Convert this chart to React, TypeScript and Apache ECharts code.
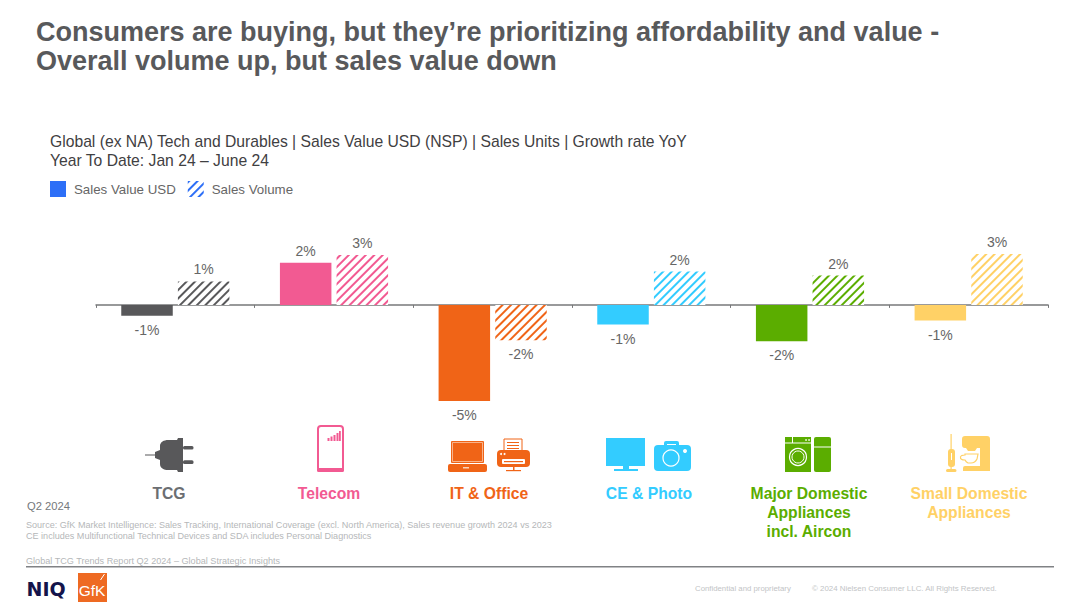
import React, { useEffect, useRef } from "react";
import * as echarts from "echarts";

const categories = ["TCG", "Telecom", "IT & Office", "CE & Photo", "Major Domestic\nAppliances\nincl. Aircon", "Small Domestic\nAppliances"];
const salesValue = [-0.55, 2.15, -4.9, -1.0, -1.85, -0.8];
const salesVolume = [1.2, 2.55, -1.8, 1.7, 1.5, 2.6];
const barColors = ["#58585A", "#F25A92", "#F06417", "#33CCFF", "#5BAD00", "#FFD166"];
const labelColors = ["#6B6E72", "#F25A92", "#F06417", "#33CCFF", "#5BAD00", "#FFD166"];
const LEGEND_BLUE = "#2D6FF7";
const FONT = "'Liberation Sans', Arial, sans-serif";

const hatch = (color: string) => ({
  symbol: "rect",
  symbolSize: 1,
  color,
  dashArrayX: [1, 0],
  dashArrayY: [1.9, 3.5],
  rotation: -Math.PI / 4,
});

echarts.graphic.registerShape(
  "plugBody",
  echarts.graphic.extendPath(
    "M145 454.5 L155 454.5 L155 452 L160 450 L160 446 C160 442 164 440 168 440 L177 440 L178 438 L183 438 L183 472 L178 472 L177 470 L168 470 C164 470 160 468 160 464 L160 460 L155 458 L155 455.5 L145 455.5 Z",
    {}
  )
);
echarts.graphic.registerShape(
  "coffeeMachine",
  echarts.graphic.extendPath(
    "M965 436 L987 436 Q990 436 990 439 L990 471 L963 471 L963 468 Q963 466 965 466 L980 466 L980 448 L977 448 L975 451 L968 451 L966 448 L965 448 Q962 448 962 445 L962 439 Q962 436 965 436 Z",
    {}
  )
);
echarts.graphic.registerShape(
  "coffeeCup",
  echarts.graphic.extendPath(
    "M965 454 L978 454 L977 459 Q975 463 971 463 L968 463 Q966 462 965 460 Q960 460 960.5 457 Q961 455 965 455 Z",
    {}
  )
);

const rect = (x: number, y: number, width: number, height: number, fill: string, r = 0) => ({
  type: "rect",
  silent: true,
  shape: { x, y, width, height, r },
  style: { fill },
});
const outline = (x: number, y: number, width: number, height: number, stroke: string, r = 0, lineWidth = 2) => ({
  type: "rect",
  silent: true,
  shape: { x, y, width, height, r },
  style: { fill: "#fff", stroke, lineWidth },
});
const circle = (cx: number, cy: number, r: number, fill: string, stroke?: string, lineWidth = 1) => ({
  type: "circle",
  silent: true,
  shape: { cx, cy, r },
  style: { fill, stroke, lineWidth },
});
const text = (x: number, y: number, t: string, size: number, fill: string, extra: any = {}) => ({
  type: "text",
  silent: true,
  x,
  y,
  style: {
    text: t,
    font: `${extra.weight || "normal"} ${size}px ${extra.family || FONT}`,
    fill,
    textVerticalAlign: "middle",
    textAlign: extra.align || "left",
  },
});

const [gray, pink, orange, blue, green, yellow] = barColors;

const icons: any[] = [
  // plug
  { type: "plugBody", silent: true, style: { fill: gray } },
  rect(183, 446, 10.5, 3.6, gray, 1.5),
  rect(183, 460.3, 10.5, 3.6, gray, 1.5),
  // phone
  outline(318, 426, 25, 45, pink, 3),
  rect(317, 468, 27, 4, pink, 1.5),
  rect(327.5, 438, 2, 3, pink),
  rect(330.5, 436.5, 2, 4.5, pink),
  rect(333.5, 435, 2, 6, pink),
  rect(336.5, 433, 2, 8, pink),
  rect(339, 431, 1.8, 10, pink),
  // laptop
  rect(451, 441, 33, 22, orange, 1),
  outline(452.5, 442.5, 30, 19, "#F9B48C", 0, 0.8),
  rect(453, 443, 29, 18, orange),
  rect(448, 464, 39, 8, orange, 2),
  rect(463, 467, 6, 1.5, "#FBD3BA"),
  // printer
  outline(504, 439, 18, 12, orange, 0, 1),
  rect(507, 442, 12, 1, orange),
  rect(507, 445, 12, 1, orange),
  rect(507, 448, 12, 1, orange),
  rect(497, 450, 33, 17, orange, 4),
  circle(501, 454, 1, "#fff"),
  circle(504.5, 454, 1, "#fff"),
  rect(502, 459, 23, 5, "#fff", 1),
  rect(504, 461, 19, 1.2, orange),
  rect(513, 467, 1.5, 3.5, orange),
  rect(506, 470, 15, 1.2, orange),
  // tv
  rect(606, 438, 39, 28, blue),
  rect(623, 466, 6, 3, blue),
  rect(614, 469, 24, 2, blue),
  // camera
  rect(654, 445, 37, 26, blue, 4),
  rect(664, 441, 15, 6, blue, 2),
  rect(667, 444, 9, 1, "#fff"),
  circle(671, 458, 8, blue, "#fff", 1.2),
  circle(685, 451, 2, "#fff"),
  // washer
  rect(785, 437, 26, 35, green),
  rect(785, 442.5, 26, 1, "#fff"),
  rect(792, 437, 1, 6, "#fff"),
  circle(806, 440, 0.8, "#fff"),
  circle(809, 440, 0.8, "#fff"),
  circle(798, 457, 8.5, green, "#fff", 1.2),
  circle(798, 457, 6, green, "#fff", 1),
  // fridge
  rect(814, 437, 17, 35, green, 2),
  rect(814, 446.5, 17, 1, "#fff"),
  // vacuum
  rect(950.5, 434, 1.2, 16, yellow),
  rect(948, 449, 7, 18, yellow, 3),
  rect(951, 453, 1, 7, "#fff"),
  rect(950.5, 466, 1.2, 4, yellow),
  rect(946, 469, 10.5, 3, yellow, 1.5),
  // coffee machine
  { type: "coffeeMachine", silent: true, style: { fill: yellow } },
  { type: "coffeeCup", silent: true, style: { fill: "#fff", stroke: yellow, lineWidth: 1.2 } },
];

const footer: any[] = [
  text(27, 506, "Q2 2024", 11.2, "#75787B"),
  text(26, 525, "Source: GfK Market Intelligence: Sales Tracking, International Coverage (excl. North America), Sales revenue growth 2024 vs 2023", 9.07, "#B5B7B9"),
  text(26, 536, "CE includes Multifunctional Technical Devices and SDA includes Personal Diagnostics", 9.07, "#B5B7B9"),
  text(26, 560.5, "Global TCG Trends Report Q2 2024 – Global Strategic Insights", 9.1, "#B5B7B9"),
  rect(26, 566, 1028, 1.5, "#808285"),
  text(26.5, 588.5, "NIQ", 19, "#14144B", { weight: "bold", family: "'DejaVu Sans', sans-serif" }),
  rect(78, 573, 29, 29, "#EE6A22"),
  text(92, 590, "GfK", 15.5, "#FFFFFF", { align: "center" }),
  {
    type: "line",
    silent: true,
    shape: { x1: 104.5, y1: 574, x2: 100.5, y2: 580 },
    style: { stroke: "#fff", lineWidth: 1 },
  },
  text(695, 588, "Confidential and proprietary", 7.8, "#C2C4C6"),
  text(812, 588, "© 2024 Nielsen Consumer LLC. All Rights Reserved.", 7.9, "#C2C4C6"),
];

const fmt = (p: any) => `${Math.round(p.value)}%`;
const labelStyle = { show: true, position: "outside", formatter: fmt, color: "#666", fontSize: 14, fontFamily: FONT };
const labelFor = (value: number) => ({ distance: value < 0 ? 7 : 5 });

export default function App() {
  const ref = useRef<HTMLDivElement>(null);
  useEffect(() => {
    document.body.style.margin = "0";
    const chart = echarts.init(ref.current!, undefined, { renderer: "svg" });
    chart.setOption({
      animation: false,
      backgroundColor: "#fff",
      title: [
        {
          text: "Consumers are buying, but they’re prioritizing affordability and value -\nOverall volume up, but sales value down",
          left: 36,
          top: 17,
          padding: 0,
          textStyle: { color: "#58595B", fontSize: 27, fontWeight: "bold", fontFamily: FONT, lineHeight: 29.5 },
        },
        {
          text: "Global (ex NA) Tech and Durables | Sales Value USD (NSP) | Sales Units | Growth rate YoY\nYear To Date: Jan 24 – June 24",
          left: 50,
          top: 132,
          padding: 0,
          textStyle: { color: "#3F4042", fontSize: 15.7, fontWeight: "normal", fontFamily: FONT, lineHeight: 19 },
        },
      ],
      legend: {
        left: 50,
        top: 181,
        padding: 0,
        itemWidth: 16,
        itemHeight: 16,
        itemGap: 12,
        icon: "rect",
        selectedMode: false,
        textStyle: { color: "#666", fontSize: 13.3, fontFamily: FONT, padding: [0, 0, 0, 3] },
        data: ["Sales Value USD", "Sales Volume"],
      },
      grid: [
        { left: 96, width: 952, top: 226.5, height: 196 },
        { left: 89, width: 960, top: 430, height: 50 },
      ],
      xAxis: [
        {
          type: "category",
          gridIndex: 0,
          data: categories,
          axisLine: { onZero: true, lineStyle: { color: "#77787A", width: 1.5 } },
          axisTick: { show: true, alignWithLabel: false, length: 3, lineStyle: { color: "#77787A" } },
          axisLabel: { show: false },
        },
        {
          type: "category",
          gridIndex: 1,
          position: "bottom",
          data: categories,
          axisLine: { show: false },
          axisTick: { show: false },
          axisLabel: {
            interval: 0,
            margin: 4,
            fontSize: 15.7,
            fontWeight: "bold",
            fontFamily: FONT,
            lineHeight: 19,
            color: (_v: any, i: number) => labelColors[i],
          },
        },
      ],
      yAxis: [
        { type: "value", gridIndex: 0, min: -6, max: 4, show: false },
        { type: "value", gridIndex: 1, min: 0, max: 1, show: false },
      ],
      series: [
        {
          name: "Sales Value USD",
          type: "bar",
          barWidth: 51.5,
          barGap: "10%",
          itemStyle: { color: LEGEND_BLUE },
          label: labelStyle,
          data: salesValue.map((value, i) => ({ value, label: labelFor(value), itemStyle: { color: barColors[i] } })),
        },
        {
          name: "Sales Volume",
          type: "bar",
          barWidth: 51.5,
          barGap: "10%",
          itemStyle: { color: "#fff", decal: hatch(LEGEND_BLUE) },
          label: labelStyle,
          data: salesVolume.map((value, i) => ({ value, label: labelFor(value), itemStyle: { color: "#fff", decal: hatch(barColors[i]) } })),
        },
      ],
      graphic: { elements: [...icons, ...footer] },
    });
    return () => chart.dispose();
  }, []);
  return <div ref={ref} style={{ width: 1080, height: 608 }} />;
}
